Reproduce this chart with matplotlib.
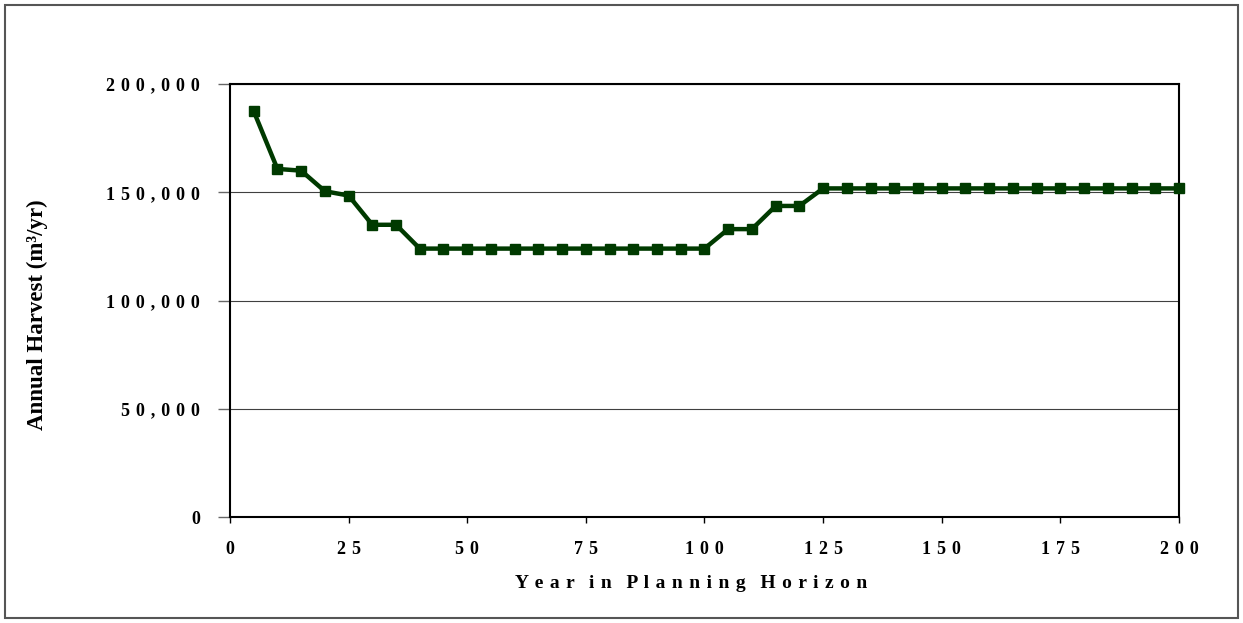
import numpy as np
import matplotlib
matplotlib.use("Agg")
import matplotlib.pyplot as plt
from matplotlib.patches import Rectangle
from matplotlib.ticker import FixedLocator, FuncFormatter

# annual harvest over the planning horizon, 5-year periods
years = list(range(5, 205, 5))
harvest = [187500, 160800, 160000, 150500, 148500, 135000, 135000] \
    + [124000] * 13 \
    + [133000, 133000, 143700, 143700] \
    + [151800] * 16

x_ticks = [0, 25, 50, 75, 100, 125, 150, 175, 200]
y_ticks = [0, 50000, 100000, 150000, 200000]

line_color = "#003a00"

plt.rcParams["font.family"] = ["Liberation Serif", "DejaVu Serif"]
plt.rcParams["font.weight"] = "bold"


def spaced(s, gap=" \u200a"):
	# wide letter spacing for axis text
	return gap.join(s)


fig = plt.figure(figsize=(12.43, 6.23), dpi=100)
ax = fig.add_axes([0.185, 0.170, 0.7635, 0.6951])

ax.plot(years, harvest, color=line_color, linewidth=3.2, marker="s",
	markersize=6.5, markerfacecolor=line_color, markeredgecolor=line_color,
	clip_on=False, zorder=3)

ax.set_xlim(0, 200)
ax.set_ylim(0, 200000)

ax.xaxis.set_major_locator(FixedLocator(x_ticks))
ax.yaxis.set_major_locator(FixedLocator(y_ticks))
ax.xaxis.set_major_formatter(FuncFormatter(lambda v, p: spaced(f"{int(v)}")))
ax.yaxis.set_major_formatter(FuncFormatter(lambda v, p: spaced(f"{int(v):,}")))

ax.tick_params(axis="x", direction="out", length=4.5, width=1, color="black",
	pad=13, labelsize=13)
ax.tick_params(axis="y", direction="out", length=8.5, width=1, color="#666666",
	pad=13, labelsize=13)

ax.grid(axis="y", color="#404040", linewidth=0.8)
ax.set_axisbelow(True)
for side in ["left", "bottom", "top", "right"]:
	ax.spines[side].set_color("black")
	ax.spines[side].set_linewidth(1.5)

fig.text(0.556, 1 - 584 / 623, "   ".join(spaced(w) for w in "Year in Planning Horizon".split()),
	ha="center", va="center", fontsize=14)
fig.text(0.030, 0.495, "Annual Harvest (m³/yr)", rotation=90,
	ha="center", va="center", fontsize=16.5)

# thin frame around the whole chart
fig.patches.append(Rectangle((0.004, 0.008), 0.992, 0.984, transform=fig.transFigure,
	fill=False, edgecolor="#555555", linewidth=1.5))

fig.savefig("out.png", dpi=100)
